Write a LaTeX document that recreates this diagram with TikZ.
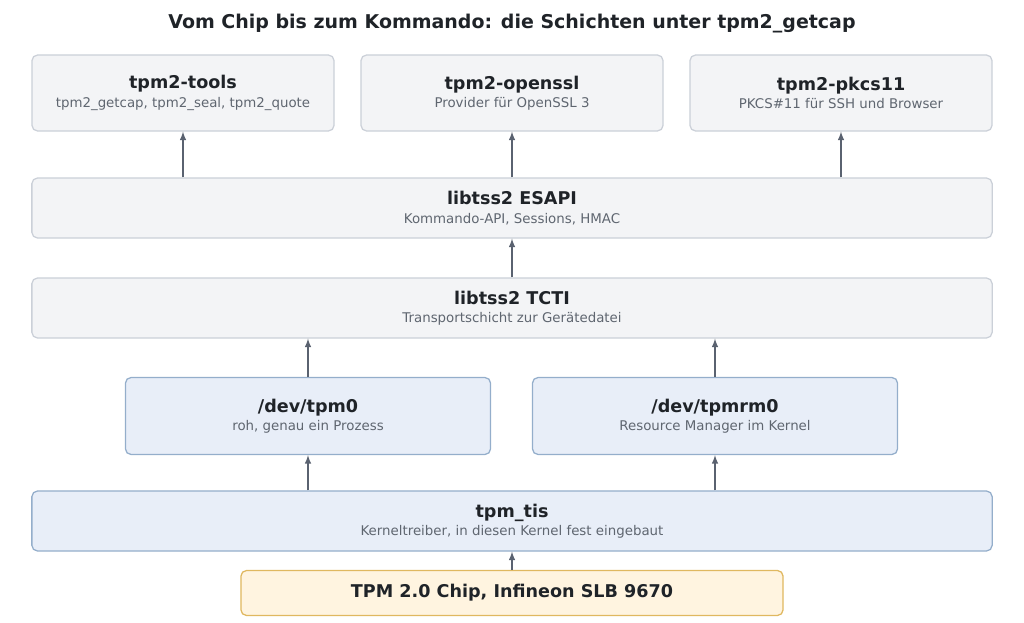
\documentclass[tikz,border=0pt]{standalone}
\usepackage{fontspec}
\setmainfont{DejaVu Sans}
\definecolor{grayfill}{HTML}{F3F4F6}
\definecolor{graydraw}{HTML}{CBD0D8}
\definecolor{bluefill}{HTML}{E8EEF8}
\definecolor{bluedraw}{HTML}{94AECB}
\definecolor{chipfill}{HTML}{FFF4E0}
\definecolor{chipdraw}{HTML}{E0B860}
\definecolor{ink}{HTML}{1F2328}
\definecolor{subink}{HTML}{5F6670}
\definecolor{arrowink}{HTML}{5A6270}
\newcommand{\boxtext}[2]{{\fontsize{12.5}{15}\selectfont\bfseries #1}\\[1pt]{\fontsize{9.5}{11}\selectfont\color{subink}#2}}
\tikzset{
  layer/.style={draw=graydraw, fill=grayfill, rounded corners=4pt, line width=0.9pt,
    text=ink, align=center, inner sep=0pt},
  dev/.style={layer, draw=bluedraw, fill=bluefill},
  chip/.style={layer, draw=chipdraw, fill=chipfill},
  up/.style={-latex, draw=arrowink, line width=1.1pt}
}
\begin{document}
\begin{tikzpicture}[x=0.025cm, y=-0.025cm]

            \useasboundingbox (0,0) rectangle (1024,623);

            \node[text=ink, font=\fontsize{13.5}{16}\selectfont\bfseries] (title) at (512,24)
                {Vom Chip bis zum Kommando: die Schichten unter tpm2\_getcap};

            % obere Reihe
            \node[layer, minimum width=7.55cm, minimum height=1.9cm] (tools) at (183,93)
                {\boxtext{tpm2-tools}{tpm2\_getcap, tpm2\_seal, tpm2\_quote}};
            \node[layer, minimum width=7.55cm, minimum height=1.9cm] (openssl) at (512,93)
                {\boxtext{tpm2-openssl}{Provider für OpenSSL 3}};
            \node[layer, minimum width=7.55cm, minimum height=1.9cm] (pkcs) at (841,93)
                {\boxtext{tpm2-pkcs11}{PKCS\#11 für SSH und Browser}};

            \node[layer, minimum width=24cm, minimum height=1.5cm] (esapi) at (512,208)
                {\boxtext{libtss2 ESAPI}{Kommando-API, Sessions, HMAC}};

            \node[layer, minimum width=24cm, minimum height=1.5cm] (tcti) at (512,308)
                {\boxtext{libtss2 TCTI}{Transportschicht zur Gerätedatei}};

            % Geraetedateien
            \node[dev, minimum width=9.125cm, minimum height=1.925cm] (tpm0) at (308,416)
                {\boxtext{/dev/tpm0}{roh, genau ein Prozess}};
            \node[dev, minimum width=9.125cm, minimum height=1.925cm] (tpmrm) at (715,416)
                {\boxtext{/dev/tpmrm0}{Resource Manager im Kernel}};

            \node[dev, minimum width=24cm, minimum height=1.5cm] (tis) at (512,521)
                {\boxtext{tpm\_tis}{Kerneltreiber, in diesen Kernel fest eingebaut}};

            \node[chip, minimum width=13.55cm, minimum height=1.125cm,
                  font=\fontsize{12.5}{15}\selectfont\bfseries] (chip) at (512,593)
                {TPM 2.0 Chip, Infineon SLB 9670};

            % Pfeile
            \draw[up] (chip.north) -- (tis.south);
            \draw[up] (tis.north -| tpm0) -- (tpm0.south);
            \draw[up] (tis.north -| tpmrm) -- (tpmrm.south);
            \draw[up] (tpm0.north) -- (tcti.south -| tpm0);
            \draw[up] (tpmrm.north) -- (tcti.south -| tpmrm);
            \draw[up] (tcti.north) -- (esapi.south);
            \draw[up] (esapi.north -| tools) -- (tools.south);
            \draw[up] (esapi.north) -- (openssl.south);
            \draw[up] (esapi.north -| pkcs) -- (pkcs.south);

\end{tikzpicture}
\end{document}
